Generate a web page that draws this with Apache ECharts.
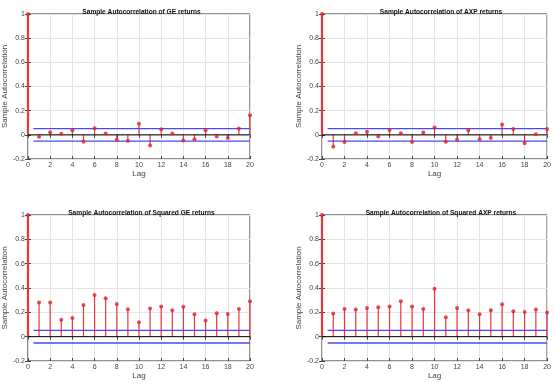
<!DOCTYPE html>
<html>
<head>
<meta charset="utf-8">
<script src="https://cdn.jsdelivr.net/npm/echarts@6/dist/echarts.min.js"></script>
<style>html,body{margin:0;padding:0;background:#fff;}#c{width:554px;height:392px;}</style>
</head>
<body>
<div id="c"></div>
<script>
const lags = [0,1,2,3,4,5,6,7,8,9,10,11,12,13,14,15,16,17,18,19,20];
const titles = [
  "Sample Autocorrelation of GE returns",
  "Sample Autocorrelation of AXP returns",
  "Sample Autocorrelation of Squared GE returns",
  "Sample Autocorrelation of Squared AXP returns"
];
const acfGE = [1,-0.015,0.022,0.008,0.038,-0.058,0.055,0.011,-0.041,-0.049,0.091,-0.088,0.047,0.011,-0.047,-0.036,0.038,-0.014,-0.027,0.052,0.162];
const acfAXP = [1,-0.099,-0.060,0.014,0.025,-0.014,0.041,0.014,-0.060,0.019,0.060,-0.058,-0.038,0.038,-0.036,-0.027,0.085,0.049,-0.069,0.005,0.049];
const acfGE2 = [1,0.280,0.280,0.140,0.154,0.261,0.343,0.316,0.269,0.225,0.118,0.231,0.247,0.217,0.245,0.184,0.132,0.192,0.187,0.228,0.291];
const acfAXP2 = [1,0.190,0.228,0.223,0.236,0.242,0.247,0.291,0.247,0.228,0.393,0.159,0.236,0.217,0.184,0.217,0.266,0.209,0.203,0.223,0.198];
const bound = [0.052, 0.052, 0.052, 0.052];
const xTicks = [0,2,4,6,8,10,12,14,16,18,20];
const yTicks = [-0.2,0,0.2,0.4,0.6,0.8,1];

const series4 = [acfGE, acfAXP, acfGE2, acfAXP2];
const grids = [
  {left:23, top:14, width:227, height:145},
  {left:322, top:14, width:228, height:145},
  {left:23, top:215, width:227, height:146},
  {left:322, top:215, width:228, height:146}
];
const tickColor = '#444';
const labelStyle = {fontSize:7, color:'#444', fontFamily:'Liberation Sans, Arial, sans-serif'};

const option = {
  animation:false,
  backgroundColor:'#fff',
  title: [], grid: [], xAxis: [], yAxis: [], series: []
};

grids.forEach((g, i) => {
  option.grid.push(Object.assign({show:true, borderColor:'#222', borderWidth:1, backgroundColor:'#fff'}, g));
  option.title.push({
    text: titles[i], left: g.left + g.width/2, top: g.top - 10, textAlign:'center',
    textStyle:{fontSize:6.6, fontWeight:'bold', color:'#111', fontFamily:'Liberation Sans, Arial, sans-serif'}
  });
  option.xAxis.push({
    type:'value', gridIndex:i, min:0, max:20, interval:2, position:'bottom',
    name:'Lag', nameLocation:'middle', nameGap:11,
    nameTextStyle:{fontSize:8, color:'#444', fontFamily:'Liberation Sans, Arial, sans-serif'},
    axisLine:{show:false, onZero:false},
    axisTick:{show:true, inside:true, length:3, lineStyle:{color:tickColor}},
    axisLabel:Object.assign({margin:3}, labelStyle),
    splitLine:{show:true, lineStyle:{color:'#e4e4e4', width:1}}
  });
  option.xAxis.push({
    type:'value', gridIndex:i, min:0, max:20, interval:2, position:'top',
    axisLine:{show:false}, axisTick:{show:true, inside:true, length:3, lineStyle:{color:tickColor}},
    axisLabel:{show:false}, splitLine:{show:false}
  });
  option.yAxis.push({
    type:'value', gridIndex:i, min:-0.2, max:1, interval:0.2, position:'left',
    name:'Sample Autocorrelation', nameLocation:'middle', nameGap:14, nameRotate:90,
    nameTextStyle:{fontSize:8, color:'#444', fontFamily:'Liberation Sans, Arial, sans-serif'},
    axisLine:{show:false}, axisTick:{show:true, inside:true, length:3, lineStyle:{color:tickColor}},
    axisLabel:Object.assign({margin:3, formatter: v => String(Math.round(v*10)/10)}, labelStyle),
    splitLine:{show:true, lineStyle:{color:'#e4e4e4', width:1}}
  });
  option.yAxis.push({
    type:'value', gridIndex:i, min:-0.2, max:1, interval:0.2, position:'right',
    axisLine:{show:false}, axisTick:{show:true, inside:true, length:3, lineStyle:{color:tickColor}},
    axisLabel:{show:false}, splitLine:{show:false}
  });
  const xi = i*2, yi = i*2;
  const pts = lags.map((l, k) => [l, series4[i][k]]);
  option.series.push({
    type:'custom', xAxisIndex:xi, yAxisIndex:yi, data:pts, clip:false,
    renderItem:(params, api) => {
      const p0 = api.coord([api.value(0), 0]);
      const p1 = api.coord([api.value(0), api.value(1)]);
      return {type:'line', shape:{x1:p0[0], y1:p0[1], x2:p1[0], y2:p1[1]},
        style:{stroke:'#e8383d', lineWidth: api.value(0)===0 ? 2.2 : 1.2}};
    },
    z:3
  });
  option.series.push({
    type:'line', xAxisIndex:xi, yAxisIndex:yi, data:[[0,0],[20,0]], symbol:'none',
    lineStyle:{color:'#000', width:1}, z:4, silent:true
  });
  option.series.push({
    type:'line', xAxisIndex:xi, yAxisIndex:yi, data:[[0.5,bound[i]],[20,bound[i]]], symbol:'none',
    lineStyle:{color:'#4a4af0', width:1.3}, z:5, silent:true
  });
  option.series.push({
    type:'line', xAxisIndex:xi, yAxisIndex:yi, data:[[0.5,-bound[i]],[20,-bound[i]]], symbol:'none',
    lineStyle:{color:'#4a4af0', width:1.3}, z:5, silent:true
  });
  option.series.push({
    type:'scatter', xAxisIndex:xi, yAxisIndex:yi, data:pts, symbol:'circle', symbolSize:4,
    itemStyle:{color:'#e0202a'}, z:6, clip:false
  });
});

const chart = echarts.init(document.getElementById('c'), null, {renderer:'canvas'});
chart.setOption(option);
</script>
</body>
</html>
